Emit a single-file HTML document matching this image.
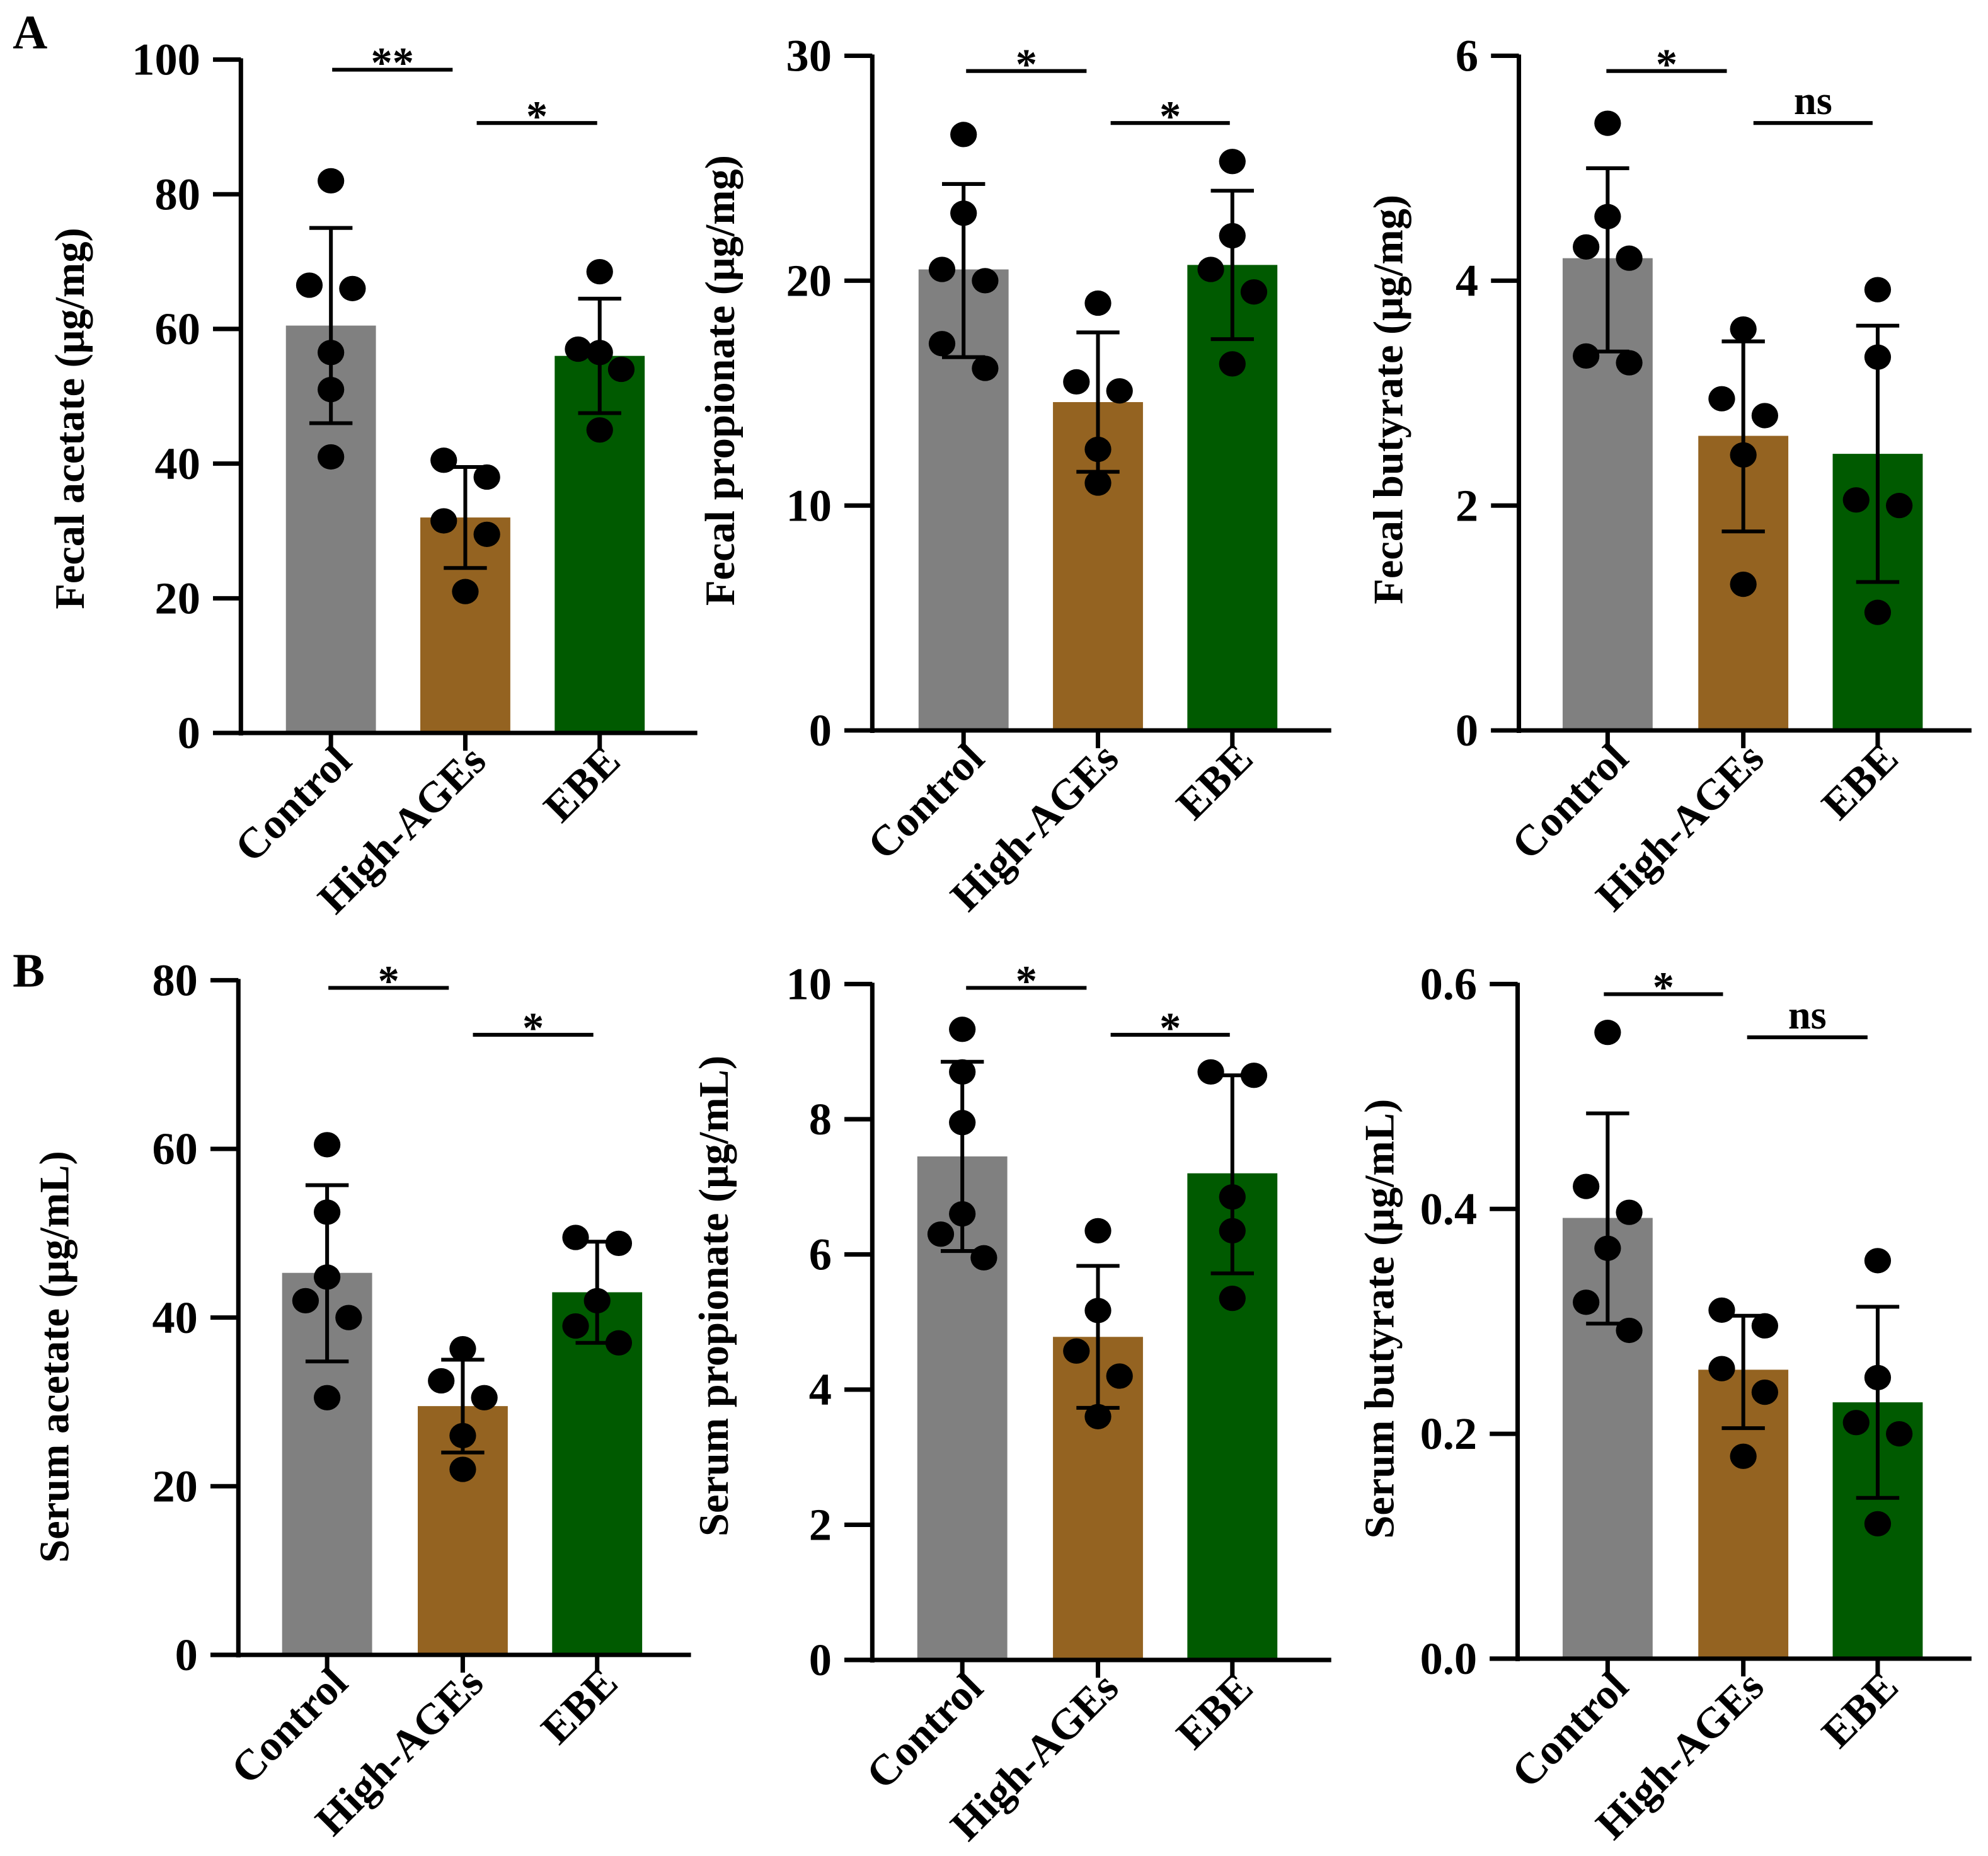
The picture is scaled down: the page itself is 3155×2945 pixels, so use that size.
<!DOCTYPE html>
<html><head><meta charset="utf-8">
<style>
html,body{margin:0;padding:0;background:#fff;}
svg{display:block;}
text{font-family:"Liberation Serif",serif;font-weight:bold;fill:#000;}
</style></head>
<body>
<svg id="chart" width="3155" height="2945" viewBox="0 0 1568 1463.6" preserveAspectRatio="none" xmlns="http://www.w3.org/2000/svg">
<text x="10" y="38" font-size="38">A</text>
<text x="10" y="778" font-size="38">B</text>
</svg>
<script>
const categories = ["Control", "High-AGEs", "EBE"];
const colors = ["#808080", "#946321", "#005a00"];

const a1Means = [60.5, 32, 56];
const a1Err = [[75, 46], [39.5, 24.5], [64.5, 47.5]];
const a1Pts = [[[82,0],[66.5,-1],[66,1],[56.5,0],[51,0],[41,0]],[[40.5,-1],[38,1],[31.5,-1],[29.5,1],[21,0]],[[68.5,0],[57,-1],[56.5,0],[54,1],[45,0]]];
const a1Ticks = ["0","20","40","60","80","100"];

const a2Means = [20.5, 14.6, 20.7];
const a2Err = [[24.3, 16.6], [17.7, 11.5], [24, 17.4]];
const a2Pts = [[[26.5,0],[23,0],[20.5,-1],[20,1],[17.2,-1],[16.1,1]],[[19,0],[15.5,-1],[15.1,1],[12.5,0],[11,0]],[[25.3,0],[22,0],[20.5,-1],[19.5,1],[16.3,0]]];
const a2Ticks = ["0","10","20","30"];

const a3Means = [4.2, 2.62, 2.46];
const a3Err = [[5.0, 3.37], [3.46, 1.77], [3.6, 1.32]];
const a3Pts = [[[5.4,0],[4.57,0],[4.3,-1],[4.2,1],[3.33,-1],[3.27,1]],[[3.57,0],[2.95,-1],[2.8,1],[2.45,0],[1.3,0]],[[3.92,0],[3.32,0],[2.05,-1],[2.0,1],[1.05,0]]];
const a3Ticks = ["0","2","4","6"];

const b1Means = [45.3, 29.5, 43];
const b1Err = [[55.7, 34.8], [35, 24], [49, 37]];
const b1Pts = [[[60.5,0],[52.5,0],[44.8,0],[42,-1],[40,1],[30.5,0]],[[36.3,0],[32.5,-1],[30.5,1],[26,0],[22,0]],[[49.5,-1],[48.8,1],[42,0],[39,-1],[37,1]]];
const b1Ticks = ["0","20","40","60","80"];

const b2Means = [7.45, 4.78, 7.2];
const b2Err = [[8.85, 6.05], [5.83, 3.73], [8.65, 5.72]];
const b2Pts = [[[9.33,0],[8.7,0],[7.95,0],[6.6,0],[6.3,-1],[5.95,1]],[[6.35,0],[5.17,0],[4.57,-1],[4.2,1],[3.6,0]],[[8.7,-1],[8.65,1],[6.85,0],[6.35,0],[5.35,0]]];
const b2Ticks = ["0","2","4","6","8","10"];

const b3Means = [0.392, 0.257, 0.228];
const b3Err = [[0.485, 0.298], [0.305, 0.205], [0.313, 0.143]];
const b3Pts = [[[0.557,0],[0.42,-1],[0.397,1],[0.365,0],[0.317,-1],[0.292,1]],[[0.31,-1],[0.296,1],[0.258,-1],[0.237,1],[0.18,0]],[[0.354,0],[0.25,0],[0.21,-1],[0.2,1],[0.12,0]]];
const b3Ticks = ["0.0","0.2","0.4","0.6"];

const panels = [
 {id:"fecal-acetate", title:"Fecal acetate (μg/mg)", ax:190, y0:578, yTop:47, max:100, means:a1Means, err:a1Err, pts:a1Pts, ticks:a1Ticks, centers:[261,367,473], xEnd:550, tx:55, ty:330, sig:[["**",262,357,55],["*",376,471,97]]},
 {id:"fecal-propionate", title:"Fecal propionate (μg/mg)", ax:688, y0:576, yTop:44, max:30, means:a2Means, err:a2Err, pts:a2Pts, ticks:a2Ticks, centers:[760,866,972], xEnd:1050, tx:568, ty:300, sig:[["*",762,857,56],["*",876,970,97]]},
 {id:"fecal-butyrate", title:"Fecal butyrate  (μg/mg)", ax:1198, y0:576, yTop:44, max:6, means:a3Means, err:a3Err, pts:a3Pts, ticks:a3Ticks, centers:[1268,1375,1481], xEnd:1555, tx:1095, ty:315, sig:[["*",1267,1362,56],["ns",1383,1477,97]]},
 {id:"serum-acetate", title:"Serum acetate (μg/mL)", ax:188, y0:1305, yTop:773, max:80, means:b1Means, err:b1Err, pts:b1Pts, ticks:b1Ticks, centers:[258,365,471], xEnd:545, tx:43, ty:1070, sig:[["*",259,354,779],["*",373,468,816]]},
 {id:"serum-propionate", title:"Serum propionate (μg/mL)", ax:688, y0:1309, yTop:776, max:10, means:b2Means, err:b2Err, pts:b2Pts, ticks:b2Ticks, centers:[759,866,972], xEnd:1050, tx:563, ty:1022, sig:[["*",762,857,779],["*",876,970,816]]},
 {id:"serum-butyrate", title:"Serum butyrate (μg/mL)", ax:1197, y0:1308, yTop:776, max:0.6, means:b3Means, err:b3Err, pts:b3Pts, ticks:b3Ticks, centers:[1268,1375,1481], xEnd:1555, tx:1088, ty:1040, sig:[["*",1265,1359,784],["ns",1378,1473,818]]}
];

const svg = document.getElementById('chart');
const NS = "http://www.w3.org/2000/svg";
function mk(tag, attrs, parent){
  const e = document.createElementNS(NS, tag);
  for (const k in attrs) e.setAttribute(k, attrs[k]);
  (parent||svg).appendChild(e);
  return e;
}

panels.forEach(p => {
  const g = mk('g', {});
  
  
  const y = v => p.y0 - (v / p.max) * (p.y0 - p.yTop);
  const bw = 71;
  p.means.forEach((m, i) => {
    const r = mk('rect', {x:p.centers[i]-bw/2, y:y(m), width:bw, height:p.y0-y(m), fill:colors[i]}, g);
    
    
  });
  p.pts.forEach((grp, i) => {
    grp.forEach(pt => {
      const c = mk('ellipse', {cx:p.centers[i] + pt[1]*17, cy:y(pt[0]), rx:10.5, ry:10, fill:'#000'}, g);
      
      
    });
  });
  p.err.forEach((e, i) => {
    const cx = p.centers[i];
    const eb = mk('path', {d:`M${cx},${y(e[0])}V${y(e[1])}M${cx-17},${y(e[0])}H${cx+17}M${cx-17},${y(e[1])}H${cx+17}`, stroke:'#000', 'stroke-width':3, fill:'none'}, g);
    
    
  });
  const ya = mk('line', {x1:p.ax, y1:p.yTop-1, x2:p.ax, y2:p.y0+2, stroke:'#000', 'stroke-width':3.5}, g);
  
  
  const xa = mk('line', {x1:p.ax-22, y1:p.y0, x2:p.xEnd, y2:p.y0, stroke:'#000', 'stroke-width':3.5}, g);
  
  
  const n = p.ticks.length - 1;
  p.ticks.forEach((t, k) => {
    const ty = y(p.max * k / n);
    mk('line', {x1:p.ax-22, y1:ty, x2:p.ax, y2:ty, stroke:'#000', 'stroke-width':3.5}, g);
    const tl = mk('text', {x:p.ax-32, y:ty+12, 'font-size':36, 'text-anchor':'end'}, g);
    tl.textContent = t;
    
    
  });
  categories.forEach((c, i) => {
    const cx = p.centers[i];
    mk('line', {x1:cx, y1:p.y0, x2:cx, y2:p.y0+14, stroke:'#000', 'stroke-width':3.5}, g);
    const lx = cx + 18, ly = p.y0 + 24;
    const xl = mk('text', {x:lx, y:ly, 'font-size':34, 'text-anchor':'end', transform:`rotate(-45 ${lx} ${ly})`}, g);
    xl.textContent = c;
    
    
  });
  const yt = mk('text', {x:p.tx, y:p.ty, 'font-size':33, 'text-anchor':'middle', transform:`rotate(-90 ${p.tx} ${p.ty})`, dy:'11'}, g);
  yt.textContent = p.title;
  
  
  p.sig.forEach(s => {
    mk('line', {x1:s[1], y1:s[3], x2:s[2], y2:s[3], stroke:'#000', 'stroke-width':3}, g);
    const st = mk('text', {x:(s[1]+s[2])/2, y: s[0]==='ns' ? s[3]-7 : s[3]+6, 'font-size': s[0]==='ns' ? 32 : 34, 'text-anchor':'middle'}, g);
    st.textContent = s[0];
    
    
  });
});
</script>
</body></html>
